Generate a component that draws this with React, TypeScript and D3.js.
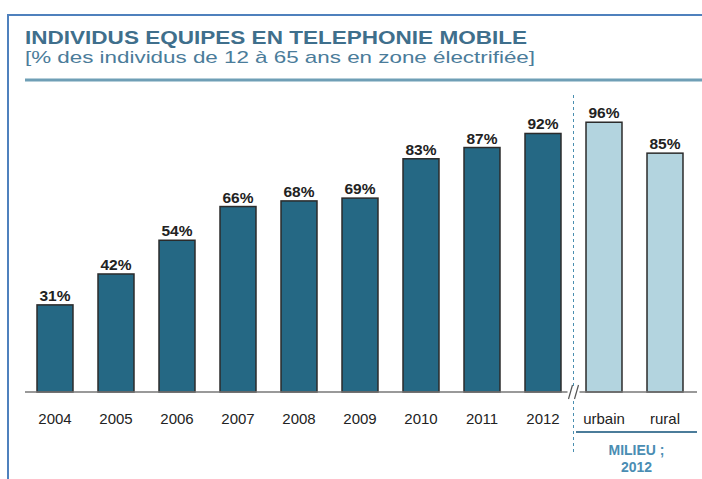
import React, { useRef, useEffect } from "react";
import * as d3 from "d3";

const categories = ["2004", "2005", "2006", "2007", "2008", "2009", "2010", "2011", "2012", "urbain", "rural"];
const values = [31, 42, 54, 66, 68, 69, 83, 87, 92, 96, 85];
const groups = ["annee", "annee", "annee", "annee", "annee", "annee", "annee", "annee", "annee", "milieu", "milieu"];

const App = () => {
  const ref = useRef<SVGSVGElement>(null);

  useEffect(() => {
    const width = 702;
    const height = 479;
    const svg = d3.select(ref.current);
    svg.selectAll("*").remove();

    // frame
    svg.append("line").attr("x1", 8).attr("x2", 8).attr("y1", 14).attr("y2", height)
      .attr("stroke", "#4f81bd").attr("stroke-width", 2);
    svg.append("line").attr("x1", 8).attr("x2", width).attr("y1", 15).attr("y2", 15)
      .attr("stroke", "#4f81bd").attr("stroke-width", 2);

    // title
    svg.append("text").attr("x", 25).attr("y", 44)
      .attr("font-family", "Liberation Sans, Arial, sans-serif").attr("font-weight", "bold")
      .attr("font-size", 18).attr("fill", "#3f6f8c")
      .attr("textLength", 502).attr("lengthAdjust", "spacingAndGlyphs")
      .text("INDIVIDUS EQUIPES EN TELEPHONIE MOBILE");
    svg.append("text").attr("x", 25).attr("y", 63)
      .attr("font-family", "Liberation Sans, Arial, sans-serif")
      .attr("font-size", 17).attr("fill", "#4b7c9a")
      .attr("textLength", 510).attr("lengthAdjust", "spacingAndGlyphs")
      .text("[% des individus de 12 à 65 ans en zone électrifiée]");
    svg.append("line").attr("x1", 25).attr("x2", width).attr("y1", 80).attr("y2", 80)
      .attr("stroke", "#6f9fb6").attr("stroke-width", 3);

    // scales
    const x = d3.scaleBand().domain(categories).range([24.5, 695.5])
      .paddingInner(0.41).paddingOuter(0.205);
    const y = d3.scaleLinear().domain([0, 100]).range([392, 111]);

    const data = categories.map((c, i) => ({ c, v: values[i], g: groups[i] }));

    svg.append("g").selectAll("rect").data(data).enter().append("rect")
      .attr("x", (d) => x(d.c)!)
      .attr("y", (d) => y(d.v))
      .attr("width", x.bandwidth())
      .attr("height", (d) => y(0) - y(d.v))
      .attr("fill", (d) => (d.g === "annee" ? "#256884" : "#b3d4df"))
      .attr("stroke", "#2b2b2b").attr("stroke-width", 1.5);

    svg.append("g").selectAll("text").data(data).enter().append("text")
      .attr("x", (d) => x(d.c)! + x.bandwidth() / 2)
      .attr("y", (d) => y(d.v) - 4)
      .attr("text-anchor", "middle")
      .attr("font-family", "Liberation Sans, Arial, sans-serif").attr("font-weight", "bold")
      .attr("font-size", 15.5).attr("fill", "#222")
      .text((d) => d.v + "%");

    // baseline
    svg.append("line").attr("x1", 25).attr("x2", 697).attr("y1", y(0)).attr("y2", y(0))
      .attr("stroke", "#777").attr("stroke-width", 1.5);

    // axis labels
    const xAxis = d3.axisBottom(x).tickSize(0).tickPadding(0);
    const gx = svg.append("g").attr("transform", `translate(0, ${y(0)})`).call(xAxis);
    gx.select(".domain").remove();
    gx.selectAll("text").attr("dy", 0).attr("y", 32)
      .attr("font-family", "Liberation Sans, Arial, sans-serif")
      .attr("font-size", 15).attr("fill", "#222");

    // separator between years and milieu
    const sepX = (x("2012")! + x.bandwidth() + x("urbain")!) / 2;
    svg.append("line").attr("x1", sepX).attr("x2", sepX).attr("y1", 95).attr("y2", 455)
      .attr("stroke", "#4a8fb0").attr("stroke-width", 1).attr("stroke-dasharray", "3,3");
    svg.append("rect").attr("x", sepX - 6).attr("y", y(0) - 6).attr("width", 12).attr("height", 12)
      .attr("fill", "#fff");
    [-3, 3].forEach((o) => {
      svg.append("line").attr("x1", sepX + o - 2).attr("x2", sepX + o + 2)
        .attr("y1", y(0) + 7).attr("y2", y(0) - 7)
        .attr("stroke", "#555").attr("stroke-width", 1.2);
    });

    // milieu group label
    const gx0 = x("urbain")! - 10;
    const gx1 = x("rural")! + x.bandwidth() + 14;
    svg.append("line").attr("x1", gx0).attr("x2", gx1).attr("y1", 432).attr("y2", 432)
      .attr("stroke", "#4b7c9a").attr("stroke-width", 2);
    const cx = (gx0 + gx1) / 2;
    ["MILIEU ;", "2012"].forEach((t, i) => {
      svg.append("text").attr("x", cx).attr("y", 455 + i * 17).attr("text-anchor", "middle")
        .attr("font-family", "Liberation Sans, Arial, sans-serif").attr("font-weight", "bold")
        .attr("font-size", 14).attr("fill", "#4a8db3").text(t);
    });
  }, []);

  return (
    <svg ref={ref} width={702} height={479}
      style={{ position: "absolute", left: 0, top: 0, background: "#fff" }} />
  );
};

export default App;
